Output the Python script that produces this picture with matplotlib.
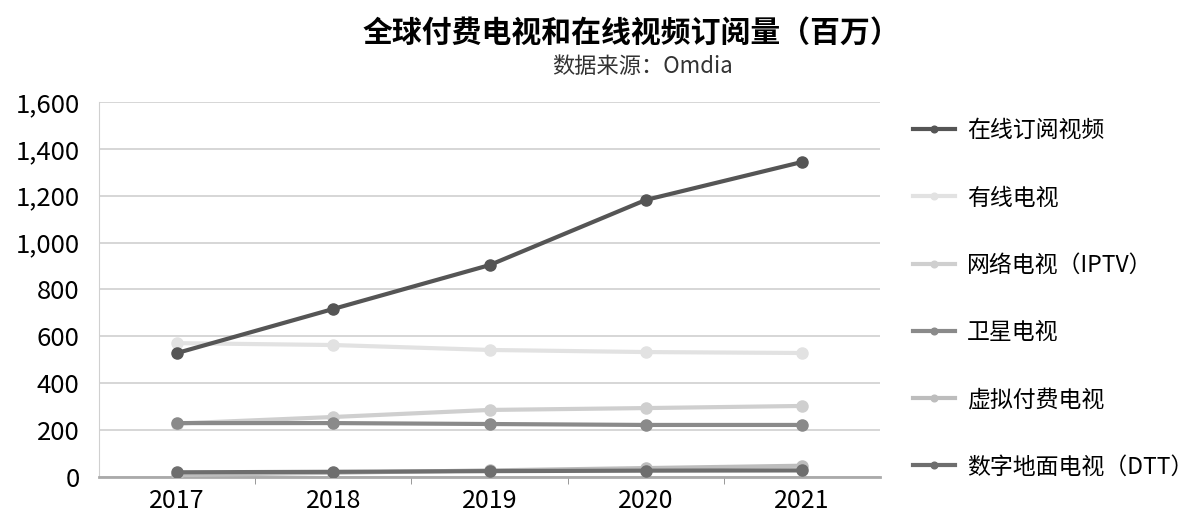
import matplotlib.pyplot as plt
from matplotlib.ticker import FuncFormatter

plt.rcParams['font.family'] = ['Noto Sans CJK SC', 'DejaVu Sans']

years = ['2017', '2018', '2019', '2020', '2021']
svod = [529, 717, 904, 1182, 1344]
cable = [571, 563, 542, 533, 529]
iptv = [228, 256, 286, 294, 303]
satellite = [230, 230, 226, 222, 222]
virtual = [8, 18, 28, 38, 48]
dtt = [20, 22, 25, 27, 28]

series = [
    ('在线订阅视频', svod, '#555555'),
    ('有线电视', cable, '#e2e2e2'),
    ('网络电视（IPTV）', iptv, '#cfcfcf'),
    ('卫星电视', satellite, '#8a8a8a'),
    ('虚拟付费电视', virtual, '#bdbdbd'),
    ('数字地面电视（DTT）', dtt, '#6e6e6e'),
]

fig = plt.figure(figsize=(11.99, 5.23), dpi=100)
ax = fig.add_axes([0.0826, 0.088, 0.6514, 0.717])

x = list(range(len(years)))
# 先画浅色再画深色，保证在线订阅视频在最上层
order = [1, 2, 4, 3, 5, 0]
handles = {}
for i in order:
    name, vals, color = series[i]
    h, = ax.plot(x, vals, color=color, linewidth=3, marker='o', markersize=8,
                 label=name, zorder=3 + (i == 0))
    handles[i] = h

ax.set_xlim(-0.5, len(years) - 0.5)
ax.set_ylim(0, 1600)
ax.set_yticks(range(0, 1601, 200))
ax.yaxis.set_major_formatter(FuncFormatter(lambda v, p: f'{int(v):,}'))
ax.set_xticks(x)
ax.set_xticklabels(years)
ax.set_xticks([i + 0.5 for i in x[:-1]], minor=True)
ax.tick_params(axis='x', which='major', length=0, pad=8, labelsize=18)
ax.tick_params(axis='x', which='minor', length=5, color='#888888')
ax.tick_params(axis='y', length=0, pad=14, labelsize=18.5)

ax.grid(True, axis='y', color='#d0d0d0', linewidth=1.2)
ax.set_axisbelow(True)
for s in ['top', 'right']:
    ax.spines[s].set_visible(False)
ax.spines['left'].set_color('#d0d0d0')
ax.spines['bottom'].set_color('#aaaaaa')
ax.spines['bottom'].set_linewidth(2)

fig.text(0.527, 0.937, '全球付费电视和在线视频订阅量（百万）', ha='center', va='center',
         fontsize=21.5, fontweight='bold')
fig.text(0.536, 0.872, '数据来源：Omdia', ha='center', va='center', fontsize=16,
         color='#333333')

leg = fig.legend([handles[i] for i in range(6)], [s[0] for s in series],
                 loc='upper left', bbox_to_anchor=(0.7615, 0.772), frameon=False,
                 fontsize=16.5, labelspacing=1.93, handlelength=1.83,
                 handletextpad=0.52, markerscale=0.6,
                 borderpad=0, borderaxespad=0)

fig.savefig('out.png', dpi=100, facecolor='white')
